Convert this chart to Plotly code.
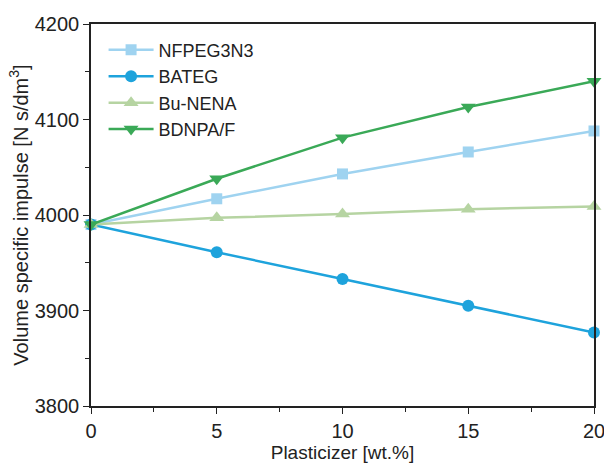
import plotly.graph_objects as go

x_vals = [0, 5, 10, 15, 20]
nfpeg3n3 = [3990, 4017, 4043, 4066, 4088]
bateg = [3990, 3961, 3933, 3905, 3877]
bu_nena = [3990, 3997, 4001, 4006, 4009]
bdnpa_f = [3990, 4038, 4081, 4113, 4140]

series = [
    ("NFPEG3N3", nfpeg3n3, "#9fd3f0", "square", 11),
    ("BATEG", bateg, "#1ea3dc", "circle", 12),
    ("Bu-NENA", bu_nena, "#b6d4a2", "triangle-up", 13),
    ("BDNPA/F", bdnpa_f, "#3aa957", "triangle-down", 13),
]

fig = go.Figure()
for name, ys, color, sym, sz in series:
    fig.add_trace(go.Scatter(
        x=x_vals, y=ys, name=name, mode="lines+markers",
        line=dict(color=color, width=2.5),
        marker=dict(symbol=sym, size=sz, color=color),
        cliponaxis=False,
    ))

font = dict(family="Liberation Sans, Arial, sans-serif", size=19, color="#222")
fig.update_layout(
    width=604, height=465,
    margin=dict(l=91, r=10, t=24, b=59, autoexpand=False),
    paper_bgcolor="white", plot_bgcolor="white",
    font=font,
    showlegend=True,
    legend=dict(x=0.025, y=0.98, xanchor="left", yanchor="top",
                bgcolor="rgba(0,0,0,0)", font=dict(size=18),
                tracegroupgap=0, itemwidth=45),
)
fig.update_xaxes(
    range=[0, 20], tickvals=[0, 5, 10, 15, 20],
    showgrid=False, zeroline=False, automargin=False,
    ticklabeloverflow="allow",
    showline=True, linecolor="#222", linewidth=1.5, mirror=True,
    ticks="outside", ticklen=6, tickwidth=1.2, tickcolor="#222",
    minor=dict(dtick=2.5, ticks="outside", ticklen=4, tickcolor="#222", showgrid=False),
    title=dict(text="Plasticizer [wt.%]", standoff=4, font=dict(size=19)),
    tickfont=dict(size=20),
)
fig.update_yaxes(
    range=[3800, 4200], tickvals=[3800, 3900, 4000, 4100, 4200],
    showgrid=False, zeroline=False, automargin=False,
    ticklabeloverflow="allow",
    showline=True, linecolor="#222", linewidth=1.5, mirror=True,
    ticks="outside", ticklen=6, tickwidth=1.2, tickcolor="#222",
    minor=dict(dtick=50, ticks="outside", ticklen=4, tickcolor="#222", showgrid=False),
    title=dict(text="Volume specific impulse [N s/dm<sup>3</sup>]", standoff=1, font=dict(size=20)),
    tickfont=dict(size=20),
)
fig.write_html(
    "out.html",
    config={"displayModeBar": False},
    post_script="document.body.style.margin='0';document.body.style.padding='0';document.body.style.overflow='hidden';",
)
